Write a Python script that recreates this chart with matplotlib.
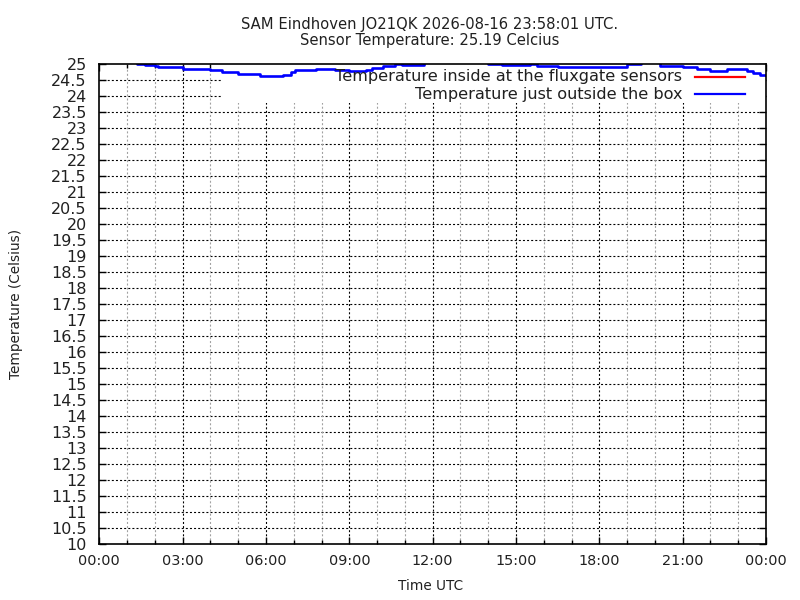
import matplotlib
matplotlib.use("Agg")
import matplotlib.pyplot as plt
from matplotlib.patches import Rectangle
from matplotlib.lines import Line2D
import numpy as np

# ---- data (hours UTC, temperature in Celsius) ----
outside_hours = [0.0, 1.35, 1.65, 2.0, 2.1, 3.0, 4.0, 4.4, 5.0, 5.8, 6.6, 6.9, 7.05,
                 7.8, 8.5, 9.0, 9.6, 9.8, 10.2, 10.65, 10.9, 11.7, 14.0, 14.5, 15.5,
                 15.75, 16.5, 19.0, 19.5, 20.2, 21.0, 21.5, 22.0, 22.6, 23.3, 23.55,
                 23.8, 24.0]
outside_temp = [25.05, 25.0, 24.96, 24.93, 24.90, 24.85, 24.80, 24.75, 24.68, 24.61,
                24.65, 24.74, 24.80, 24.84, 24.82, 24.79, 24.82, 24.88, 24.93, 25.0,
                24.96, 25.05, 25.0, 24.96, 25.0, 24.94, 24.90, 25.0, 25.05, 24.95,
                24.90, 24.85, 24.79, 24.84, 24.79, 24.72, 24.65, 24.63]

xtick_hours = [0, 3, 6, 9, 12, 15, 18, 21, 24]
xtick_labels = ["00:00", "03:00", "06:00", "09:00", "12:00", "15:00", "18:00", "21:00", "00:00"]
ytick_values = [10 + 0.5 * i for i in range(31)]

title_text = "SAM Eindhoven JO21QK 2026-08-16 23:58:01 UTC.\nSensor Temperature: 25.19 Celcius"
legend_labels = ["Temperature inside at the fluxgate sensors", "Temperature just outside the box"]
legend_colors = ["#ff0000", "#0000ff"]

plt.rcParams['font.family'] = ['DejaVu Sans']

fig = plt.figure(figsize=(8, 6), dpi=100)
L, R, T, B = 99.3, 766.0, 64.0, 544.3
ax = fig.add_axes([L / 800, 1 - B / 600, (R - L) / 800, (B - T) / 600])

ax.set_xlim(0, 24)
ax.set_ylim(10, 25)

# grid
dots = (0, (1.8, 1.9))
for y in ytick_values[1:-1]:
    ax.axhline(y, color='black', lw=0.8, linestyle=dots, zorder=1)
for h in range(1, 24):
    if h % 3 == 0:
        ax.axvline(h, color='black', lw=0.8, linestyle=dots, zorder=1)
    else:
        ax.axvline(h, color='#a0a0a0', lw=0.8, linestyle=dots, zorder=1)

# legend box (opaque, no border)
box_x0 = (222 - L) / (R - L)
box_y0 = (B - 103) / (B - T)
ax.add_patch(Rectangle((box_x0, box_y0), 1 - box_x0, 1 - box_y0, transform=ax.transAxes,
                       facecolor='white', edgecolor='none', zorder=2))

# data
ax.plot(outside_hours, outside_temp, color='#0000ff', lw=1.9, drawstyle='steps-post',
        zorder=3, solid_capstyle='butt')

# legend entries
text_x = (682 - L) / (R - L)
seg_x0 = (695 - L) / (R - L)
seg_x1 = (745 - L) / (R - L)
for i, (lab, col) in enumerate(zip(legend_labels, legend_colors)):
    ypix = 77 + 17 * i
    ya = (B - ypix) / (B - T)
    ax.text(text_x, ya, lab, transform=ax.transAxes, ha='right', va='center',
            fontsize=11.6, color='#202020', zorder=4)
    ax.add_line(Line2D([seg_x0, seg_x1], [ya, ya], transform=ax.transAxes,
                       color=col, lw=1.6, zorder=4))

# ticks
ax.set_xticks(xtick_hours)
ax.set_xticklabels(xtick_labels, fontsize=10.4)
ax.set_xticks(range(0, 25), minor=True)
ax.set_yticks(ytick_values)
ax.set_yticklabels([("%g" % v) for v in ytick_values], fontsize=11.5)
ax.tick_params(axis='both', which='major', direction='in', length=5, width=1,
               top=True, right=True, colors='black', labelcolor='#202020')
ax.tick_params(axis='x', which='minor', direction='in', length=3, width=1, top=True)
ax.tick_params(axis='x', which='major', pad=7)
ax.tick_params(axis='y', which='major', pad=9)
for s in ax.spines.values():
    s.set_linewidth(1.2)
    s.set_zorder(5)

fig.text(430 / 800, 1 - 32.5 / 600, title_text, ha='center', va='center',
         fontsize=10.6, color='#202020', linespacing=1.0)
fig.text(431 / 800, 1 - 586 / 600, "Time UTC", ha='center', va='center',
         fontsize=9.8, color='#202020')
fig.text(16 / 800, 1 - 304 / 600, "Temperature (Celsius)", ha='center', va='center',
         rotation=90, fontsize=9.8, color='#202020')

fig.savefig("out.png", dpi=100)
